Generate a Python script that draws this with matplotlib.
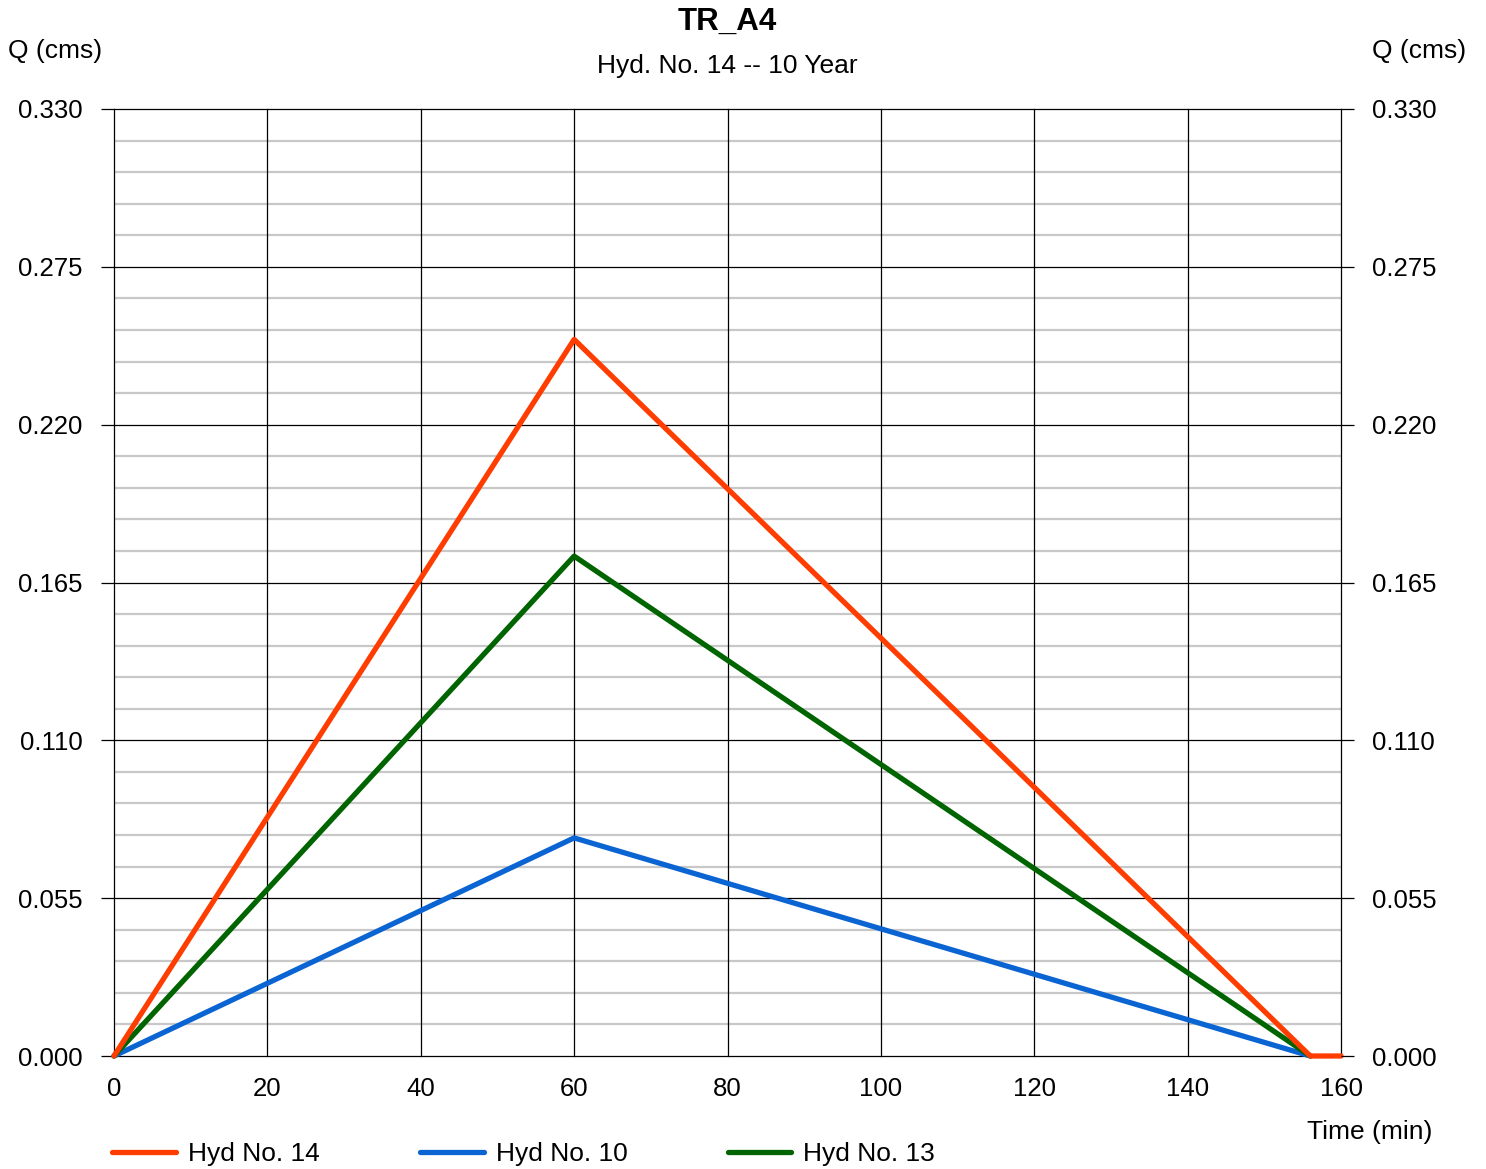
import matplotlib
matplotlib.use("Agg")
import matplotlib.pyplot as plt
import numpy as np

plt.rcParams['font.family'] = ['Liberation Sans', 'DejaVu Sans']

# Data
time_14 = [0, 60, 156, 160]
q_14 = [0.0, 0.2497, 0.0, 0.0]
time_10 = [0, 60, 156]
q_10 = [0.0, 0.0760, 0.0]
time_13 = [0, 60, 156]
q_13 = [0.0, 0.1742, 0.0]

x_ticks = [0, 20, 40, 60, 80, 100, 120, 140, 160]
y_ticks = [0.000, 0.055, 0.110, 0.165, 0.220, 0.275, 0.330]
y_tick_labels = ["0.000", "0.055", "0.110", "0.165", "0.220", "0.275", "0.330"]
y_minor = np.round(np.arange(0, 0.3301, 0.011), 3)

title = "TR_A4"
subtitle = "Hyd. No. 14 -- 10 Year"

c14 = "#FF3D00"
c10 = "#0A64D2"
c13 = "#006400"

W, H = 1486, 1169
fig = plt.figure(figsize=(W / 100, H / 100), dpi=100)
L, R, T, B = 114, 1341, 109, 1056
ax = fig.add_axes([L / W, 1 - B / H, (R - L) / W, (B - T) / H])

ax.set_xlim(0, 160)
ax.set_ylim(0, 0.330)

# grid
for v in y_minor:
    if not np.any(np.isclose(v, y_ticks)):
        ax.axhline(v, color="#c8c8c8", lw=1.6, zorder=1)
for v in y_ticks:
    ax.axhline(v, color="black", lw=0.9, zorder=1.5, clip_on=False)
for v in x_ticks:
    ax.axvline(v, color="black", lw=0.9, zorder=1.5, clip_on=False)

l10, = ax.plot(time_10, q_10, color=c10, lw=3.8, zorder=3, label="Hyd No. 10", solid_capstyle='round', clip_on=False)
l13, = ax.plot(time_13, q_13, color=c13, lw=3.8, zorder=4, label="Hyd No. 13", solid_capstyle='round', clip_on=False)
l14, = ax.plot(time_14, q_14, color=c14, lw=3.8, zorder=5, label="Hyd No. 14", solid_capstyle='round', clip_on=False)

for s in ax.spines.values():
    s.set_visible(False)

ax.set_xticks(x_ticks)
ax.set_xticklabels([str(x) for x in x_ticks])
ax.tick_params(axis='x', length=0, pad=15, labelsize=18.5)
ax.set_yticks(y_ticks)
ax.set_yticklabels(y_tick_labels)
ax.tick_params(axis='y', length=9.5, width=0.9, pad=13, labelsize=18.5, direction='out')

ax2 = ax.twinx()
ax2.set_ylim(0, 0.330)
ax2.set_yticks(y_ticks)
ax2.set_yticklabels(y_tick_labels)
ax2.tick_params(axis='y', length=9.5, width=0.9, pad=13, labelsize=18.5, direction='out')
for s in ax2.spines.values():
    s.set_visible(False)

fig.text(727.5 / W, 1 - 22 / H, title, ha='center', va='center', fontsize=22.5, fontweight='bold')
fig.text(727.5 / W, 1 - 66 / H, subtitle, ha='center', va='center', fontsize=19)
fig.text(8 / W, 1 - 51 / H, "Q (cms)", ha='left', va='center', fontsize=19)
fig.text(1466 / W, 1 - 51 / H, "Q (cms)", ha='right', va='center', fontsize=19)
fig.text(1432 / W, 1 - 1132 / H, "Time (min)", ha='right', va='center', fontsize=19)

leg = fig.legend(handles=[l14, l10, l13], loc='center left',
                 bbox_to_anchor=(112 / W, 1 - 1154 / H), ncol=3, frameon=False,
                 fontsize=19, handlelength=2.42, handletextpad=0.45, columnspacing=3.8,
                 borderpad=0, borderaxespad=0)

fig.savefig("out.png", dpi=100)
